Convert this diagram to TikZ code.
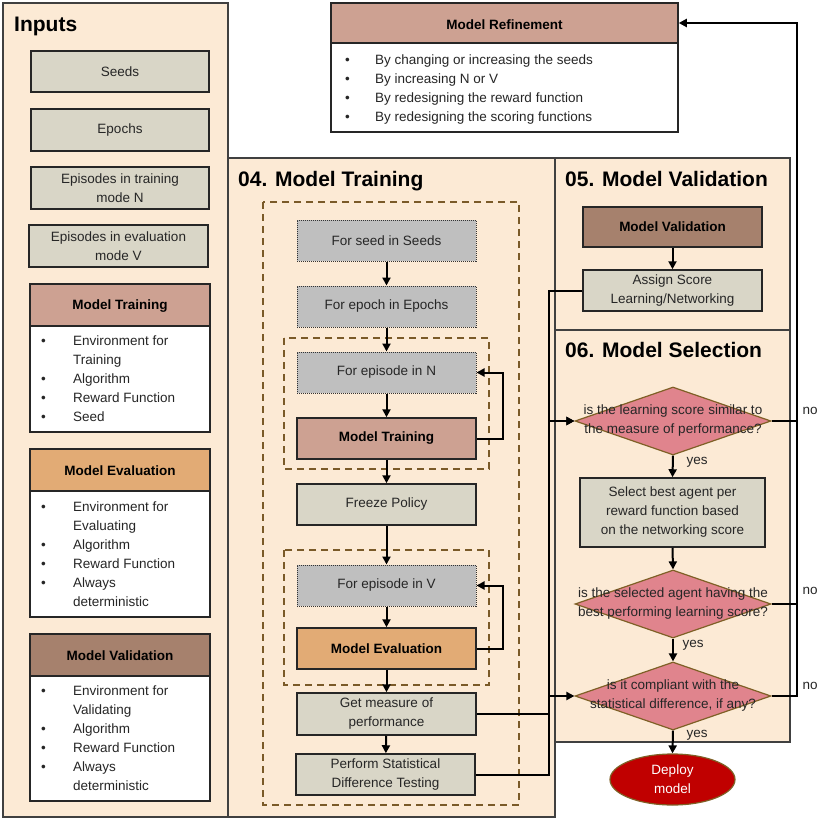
\documentclass[tikz,border=0pt]{standalone}
\usepackage{fontspec}
\setmainfont{Liberation Sans}
\usetikzlibrary{shapes.geometric,arrows.meta}
\definecolor{panel}{HTML}{FCEAD5}
\definecolor{panelborder}{HTML}{404040}
\definecolor{graybox}{HTML}{D9D6C7}
\definecolor{loopbox}{HTML}{BFBFBF}
\definecolor{trainc}{HTML}{CDA192}
\definecolor{evalc}{HTML}{E2AB75}
\definecolor{valc}{HTML}{A6816D}
\definecolor{dashc}{HTML}{7A5A28}
\definecolor{diac}{HTML}{E0848D}
\definecolor{diaborder}{HTML}{7F6026}
\definecolor{deployc}{HTML}{C00000}
\definecolor{txt}{HTML}{262626}
\newcommand{\bodyfont}{\fontsize{13.5}{19}\selectfont}
\newcommand{\titlefont}{\fontsize{21}{24}\selectfont\bfseries}
\begin{document}
\begin{tikzpicture}[x=1pt,y=-1pt,
  panelbox/.style={draw=panelborder, fill=panel, line width=1.5pt},
  bx/.style 2 args={minimum width=#1, minimum height=#2, inner sep=0pt, align=center, font=\bodyfont, text=txt},
  procbox/.style={draw=black!85, fill=graybox, line width=1.5pt},
  loopbox/.style={draw=black!80, fill=loopbox, densely dotted, line width=1pt},
  hdr/.style={draw=black!85, line width=1.5pt, font=\bodyfont\bfseries, text=black},
  bodybox/.style={draw=black!85, fill=white, line width=1.5pt},
  dashbox/.style={draw=dashc, dash pattern=on 7pt off 5pt, line width=2pt},
  dia/.style={diamond, draw=diaborder, fill=diac, line width=1.2pt, inner sep=0pt},
  diatext/.style={align=center, font=\bodyfont, text=txt, inner sep=0pt},
  lbl/.style={font=\bodyfont, text=txt, inner sep=0pt},
  ttl/.style={font=\titlefont, text=black, anchor=base west, inner sep=0pt},
  listtxt/.style={anchor=north west, inner sep=0pt, font=\bodyfont, text=txt, align=left},
  arr/.style={line width=2pt, -{Triangle[length=8pt,width=8pt]}},
  conn/.style={line width=2pt}
]
\useasboundingbox (0,0) rectangle (830,819);
% panels
\draw[panelbox] (3,3) rectangle (228,817);
\draw[panelbox] (228,158) rectangle (555,817);
\draw[panelbox] (555,158) rectangle (790,330);
\draw[panelbox] (555,330) rectangle (790,742);
\node[ttl] (tin) at (14,31) {Inputs};
\node[ttl] (ttr) at (238,186) {04. Model Training};
\node[ttl] (tva) at (565,186) {05. Model Validation};
\node[ttl] (tse) at (565,357) {06. Model Selection};

% inputs
\node[bx={178pt}{41pt}, procbox] (iseeds) at (120,71.5) {Seeds};
\node[bx={178pt}{42pt}, procbox] (iepochs) at (120,130) {Epochs};
\node[bx={178pt}{42pt}, procbox] (iepN) at (120,188) {Episodes in training\\mode N};
\node[bx={179pt}{42pt}, procbox] (iepV) at (118.5,246) {Episodes in evaluation\\mode V};

\node[bx={180pt}{42pt}, hdr, fill=trainc] (itrh) at (120,305) {};
\node[lbl, font=\bodyfont\bfseries, text=black] at (120,306) {Model Training};
\node[bx={180pt}{106pt}, bodybox] (itrb) at (120,379) {};
\node[listtxt] (itrl) at (41,331.5) {\begin{tabular}{@{}p{32pt}@{}l@{}}\textbullet & Environment for\\ & Training\\ \textbullet & Algorithm\\ \textbullet & Reward Function\\ \textbullet & Seed\end{tabular}};

\node[bx={180pt}{42pt}, hdr, fill=evalc] (ievh) at (120,470) {};
\node[lbl, font=\bodyfont\bfseries, text=black] at (120,471) {Model Evaluation};
\node[bx={180pt}{126pt}, bodybox] (ievb) at (120,554) {};
\node[listtxt] (ievl) at (41,497.5) {\begin{tabular}{@{}p{32pt}@{}l@{}}\textbullet & Environment for\\ & Evaluating\\ \textbullet & Algorithm\\ \textbullet & Reward Function\\ \textbullet & Always\\ & deterministic\end{tabular}};

\node[bx={180pt}{42pt}, hdr, fill=valc] (ivah) at (120,655) {};
\node[lbl, font=\bodyfont\bfseries, text=black] at (120,656) {Model Validation};
\node[bx={180pt}{125pt}, bodybox] (ivab) at (120,738.5) {};
\node[listtxt] (ival) at (41,682) {\begin{tabular}{@{}p{32pt}@{}l@{}}\textbullet & Environment for\\ & Validating\\ \textbullet & Algorithm\\ \textbullet & Reward Function\\ \textbullet & Always\\ & deterministic\end{tabular}};

% model refinement
\node[bx={347pt}{40pt}, hdr, fill=trainc] (refh) at (504.5,23) {};
\node[lbl, font=\bodyfont\bfseries, text=black] at (504.5,25) {Model Refinement};
\node[bx={347pt}{89pt}, bodybox] (refb) at (504.5,87.5) {};
\node[listtxt] (refl) at (345,51) {\begin{tabular}{@{}p{30pt}@{}l@{}}\textbullet & By changing or increasing the seeds\\ \textbullet & By increasing N or V\\ \textbullet & By redesigning the reward function\\ \textbullet & By redesigning the scoring functions\end{tabular}};

% training flow
\draw[dashbox] (263,202) rectangle (519,805);
\draw[dashbox] (284,338) rectangle (489,469);
\draw[dashbox] (284,550) rectangle (489,685);
\node[bx={179pt}{41pt}, loopbox] (seed) at (386.5,240.5) {For seed in Seeds};
\node[bx={179pt}{41pt}, loopbox] (epoch) at (386.5,306.5) {For epoch in Epochs};
\node[bx={179pt}{41pt}, loopbox] (epN) at (386.5,372.5) {For episode in N};
\node[bx={179pt}{41pt}, hdr, fill=trainc] (mtrain) at (386.5,438.5) {Model Training};
\node[bx={179pt}{41pt}, procbox] (freeze) at (386.5,504.5) {Freeze Policy};
\node[bx={179pt}{41pt}, loopbox] (epV) at (386.5,585.5) {For episode in V};
\node[bx={179pt}{41pt}, hdr, fill=evalc] (meval) at (386.5,648.5) {Model Evaluation};
\node[bx={179pt}{42pt}, procbox] (getm) at (386.5,714) {Get measure of\\performance};
\node[bx={179pt}{41pt}, procbox] (perf) at (385.5,774.5) {Perform Statistical\\Difference Testing};

\draw[arr] (seed) -- (epoch);
\draw[arr] (epoch) -- (epN);
\draw[arr] (epN) -- (mtrain);
\draw[arr] (mtrain) -- (freeze);
\draw[arr] (freeze) -- (epV);
\draw[arr] (epV) -- (meval);
\draw[arr] (meval) -- (getm);
\draw[arr] (getm) -- (perf);
\draw[arr] (mtrain.east) -- ++(26,0) |- (epN.east);
\draw[arr] (meval.east) -- ++(26,0) |- (epV.east);

% validation
\node[bx={179pt}{40pt}, hdr, fill=valc] (mval) at (672.5,227) {Model Validation};
\node[bx={179pt}{41pt}, procbox] (assign) at (672.5,290.5) {Assign Score\\Learning/Networking};
\draw[arr] (mval) -- (assign);

% selection
\node[dia, minimum width=196pt, minimum height=68pt] (d1) at (673,421) {};
\node[diatext] (d1t) at (d1.center) {is the learning score similar to\\the measure of performance?};
\node[bx={185pt}{69pt}, procbox] (sel) at (672.5,512.5) {Select best agent per\\reward function based\\on the networking score};
\node[dia, minimum width=196pt, minimum height=68pt] (d2) at (673,604) {};
\node[diatext] (d2t) at (d2.center) {is the selected agent having the\\best performing learning score?};
\node[dia, minimum width=196pt, minimum height=68pt] (d3) at (673,696) {};
\node[diatext] (d3t) at (d3.center) {is it compliant with the\\statistical difference, if any?};
\node[ellipse, draw=diaborder, fill=deployc, line width=1.2pt, minimum width=125pt, minimum height=51pt, inner sep=0pt, align=center, font=\bodyfont, text=white] (deploy) at (672.5,779.5) {Deploy\\model};

\draw[arr] (d1.south) -- (sel.north);
\draw[arr] (sel.south) -- (d2.north);
\draw[arr] (d2.south) -- (d3.north);
\draw[arr] (d3.south) -- (deploy.north);
\node[lbl] (y1) at (697,462) {yes};
\node[lbl] (y2) at (693,645) {yes};
\node[lbl] (y3) at (697,735) {yes};

% no branches
\coordinate (rt) at (797,23);
\draw[conn] (d1.east) -- (d1.east -| rt);
\draw[conn] (d2.east) -- (d2.east -| rt);
\draw[arr] (d3.east) -- (d3.east -| rt) -- (rt) -- (refh.east);
\node[lbl] (n1) at (810,411) {no};
\node[lbl] (n2) at (810,591) {no};
\node[lbl] (n3) at (810,686) {no};

% left connectors
\coordinate (jx) at (548.5,0);
\draw[arr] (assign.west) -- (assign.west -| jx) |- (d1.west);
\draw[arr] (getm.east) -- (getm.east -| jx) |- (d1.west);
\draw[arr] (perf.east) -- (perf.east -| jx) |- (d3.west);
\end{tikzpicture}
\end{document}
